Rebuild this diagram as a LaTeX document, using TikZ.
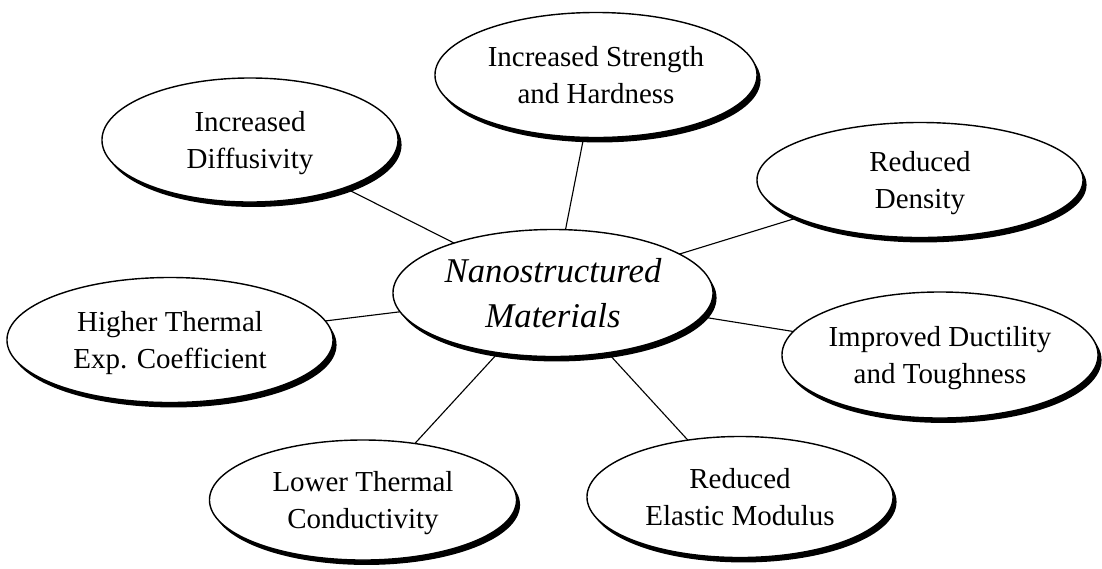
\documentclass[tikz,border=0pt]{standalone}
\usepackage{fontspec}
\setmainfont{Liberation Serif}
\usetikzlibrary{shapes.geometric,shadows,backgrounds}

\tikzset{
  prop/.style={ellipse,draw=black,line width=1pt,fill=white,inner sep=0pt,
    drop shadow={shadow xshift=2.5pt,shadow yshift=-3.5pt,fill=black,opacity=1}},
  txt/.style={align=center,inner sep=0pt,text depth=0pt,
    font=\fontsize{20.6pt}{26.3pt}\selectfont},
  link/.style={line width=0.8pt,black}
}

\begin{document}
\begin{tikzpicture}[x=0.025cm,y=-0.025cm]
\useasboundingbox (0,0) rectangle (1102,568);

% ellipses (sizes in px, 1px = 0.7113pt)
\node[prop,minimum width=320*0.7113pt,minimum height=127*0.7113pt] (nano) at (553,293) {};
\node[prop,minimum width=322*0.7113pt,minimum height=125*0.7113pt] (strength) at (596,75) {};
\node[prop,minimum width=296*0.7113pt,minimum height=124*0.7113pt] (diffus) at (250,140) {};
\node[prop,minimum width=326*0.7113pt,minimum height=115*0.7113pt] (density) at (920,180) {};
\node[prop,minimum width=326*0.7113pt,minimum height=125*0.7113pt] (expcoef) at (170,340) {};
\node[prop,minimum width=316*0.7113pt,minimum height=126*0.7113pt] (ductil) at (940,355) {};
\node[prop,minimum width=307*0.7113pt,minimum height=120*0.7113pt] (conduct) at (363,500) {};
\node[prop,minimum width=306*0.7113pt,minimum height=121*0.7113pt] (modulus) at (740,497) {};

% labels
\node[txt,font=\fontsize{24.7pt}{32pt}\selectfont\itshape] (nanotxt) at (nano) {Nanostructured\\Materials};
\node[txt] (strengthtxt) at (strength) {Increased Strength\\and Hardness};
\node[txt] (diffustxt) at (diffus) {Increased\\Diffusivity};
\node[txt] (densitytxt) at (density) {Reduced\\Density};
\node[txt] (expcoeftxt) at (expcoef) {Higher Thermal\\Exp. Coefficient};
\node[txt] (ductiltxt) at (ductil) {Improved Ductility\\and Toughness};
\node[txt] (conducttxt) at (conduct) {Lower Thermal\\Conductivity};
\node[txt] (modulustxt) at (modulus) {Reduced\\Elastic Modulus};

% spokes behind the ellipses
\begin{scope}[on background layer]
\foreach \n in {strength,diffus,density,expcoef,ductil,conduct,modulus}
  \draw[link] (nano.center) -- (\n.center);
\end{scope}

\end{tikzpicture}
\end{document}
